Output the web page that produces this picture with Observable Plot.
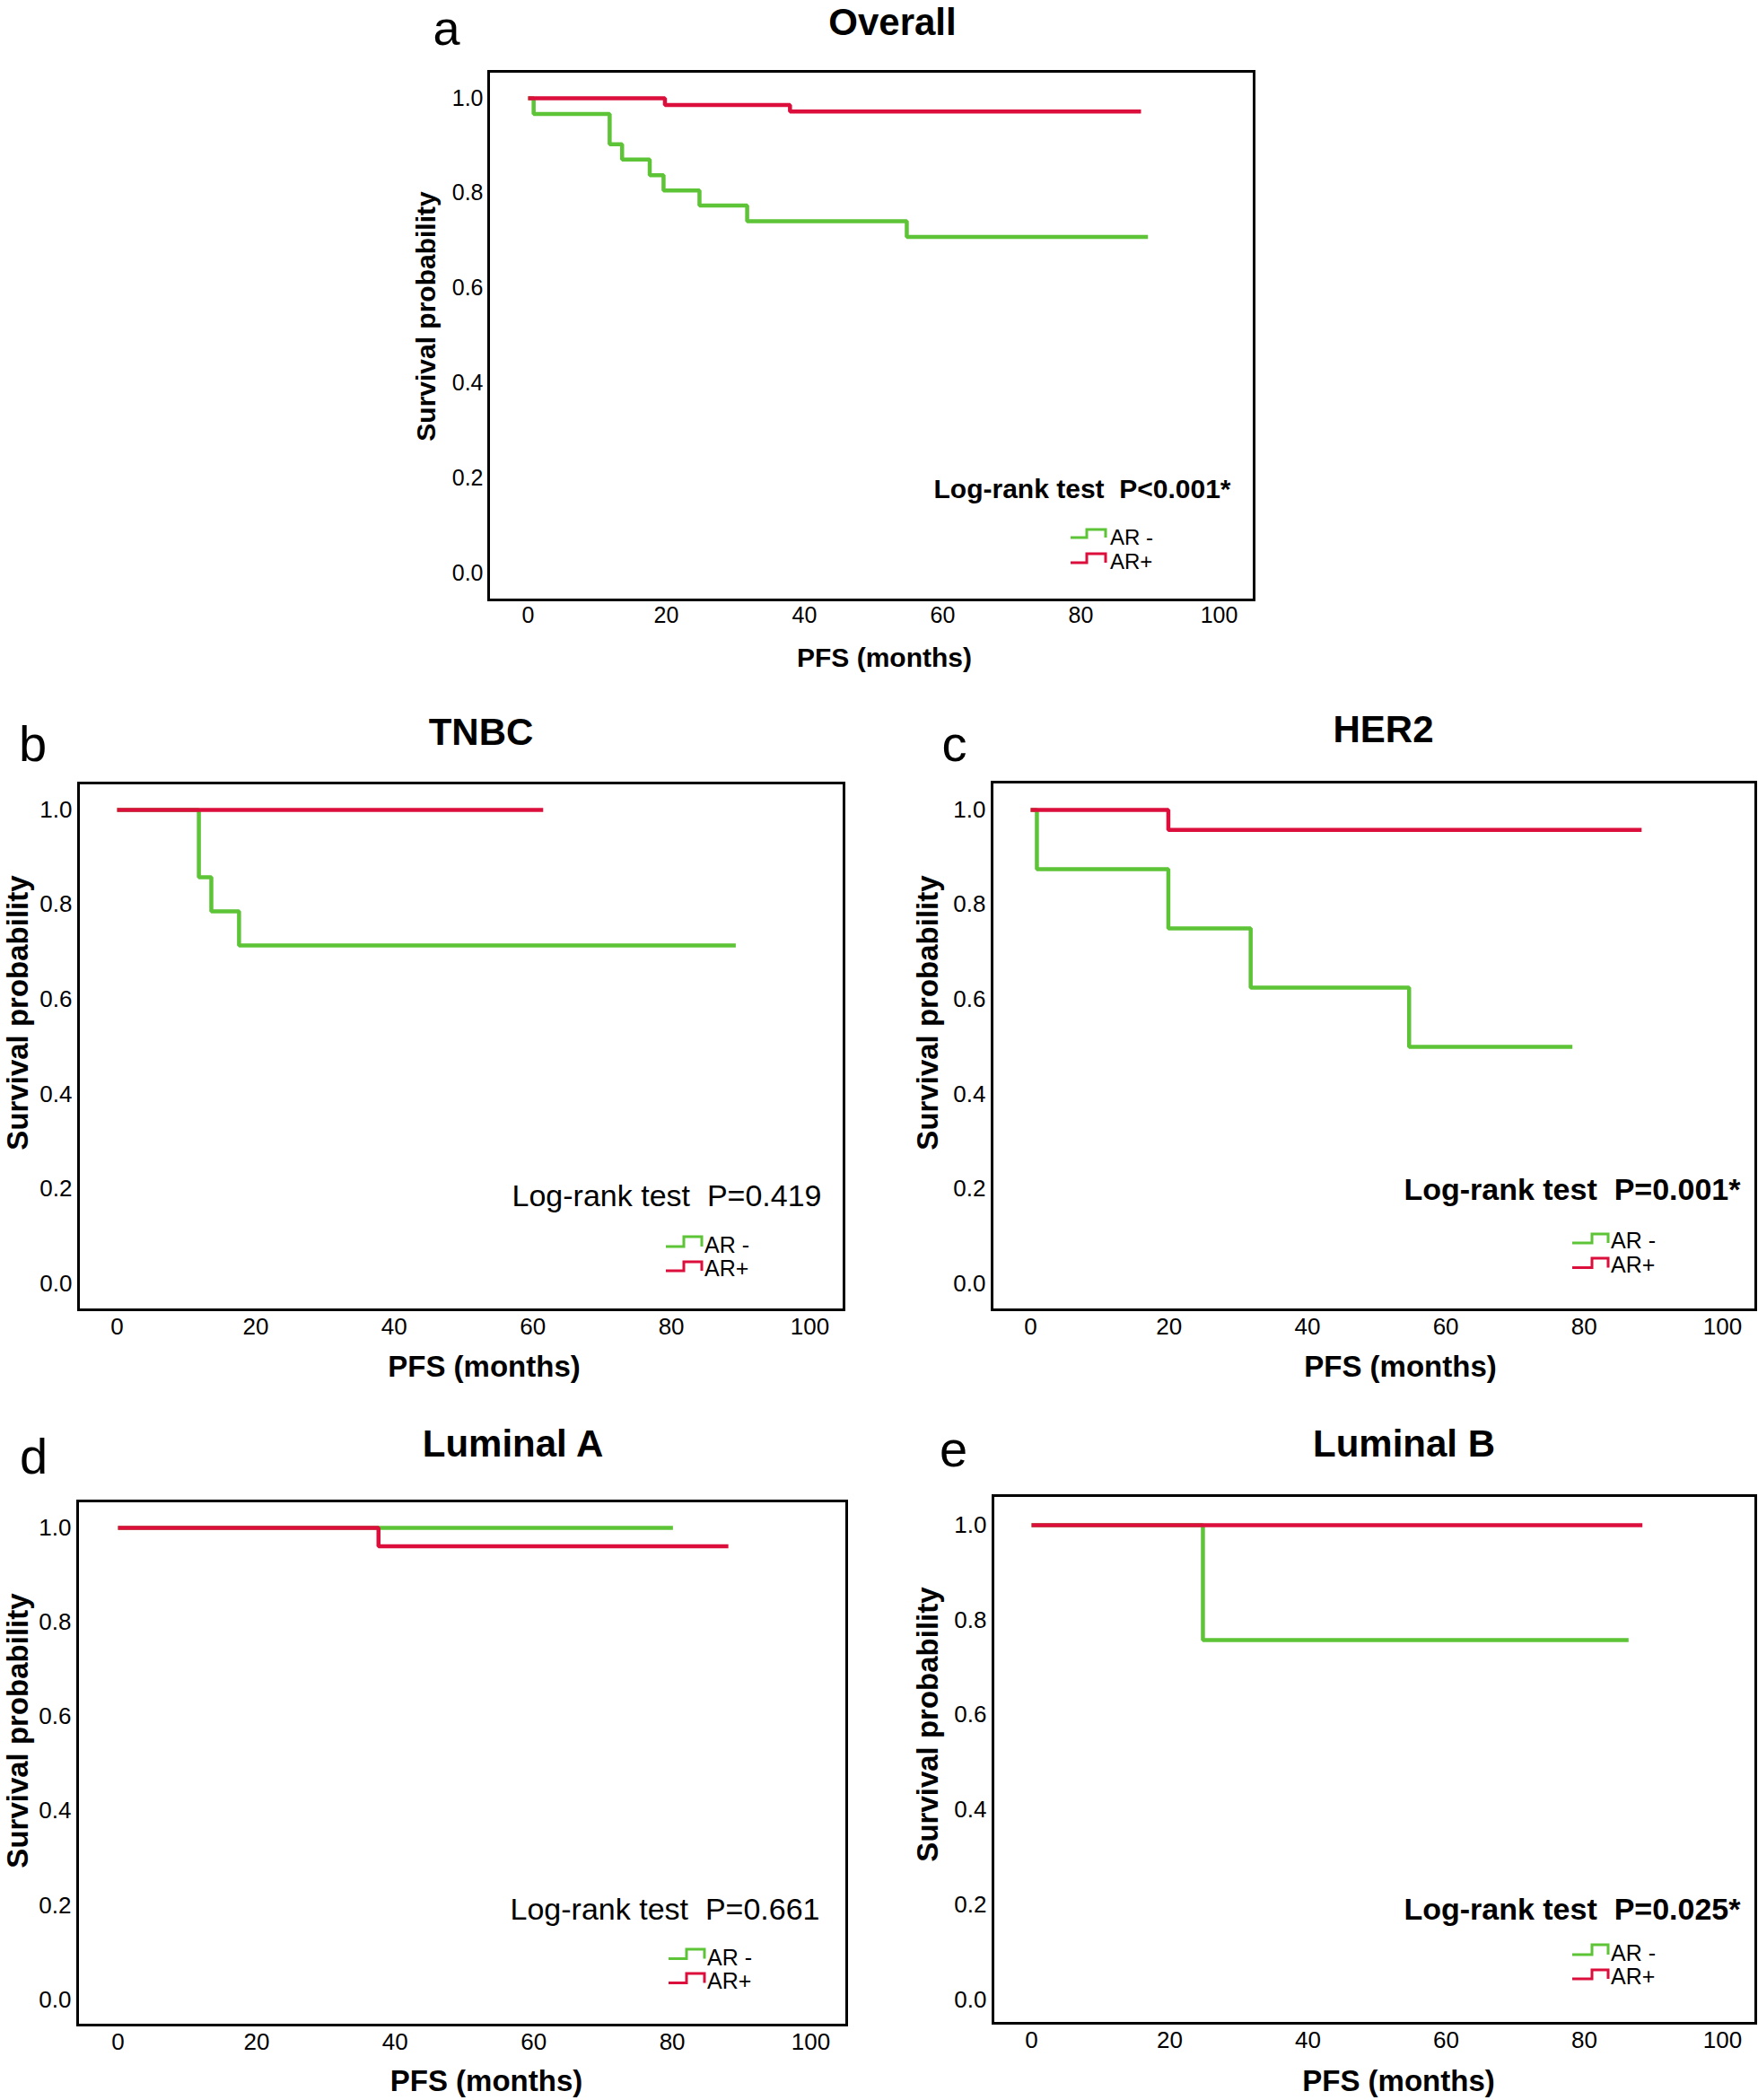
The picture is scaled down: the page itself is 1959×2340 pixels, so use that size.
<!DOCTYPE html>
<html><head><meta charset="utf-8">
<script src="https://cdn.jsdelivr.net/npm/d3@7"></script>
<script src="https://cdn.jsdelivr.net/npm/@observablehq/plot@0.6"></script>
<style>
html,body{margin:0;padding:0;background:#fff;}
#page{position:relative;width:1959px;height:2340px;overflow:hidden;background:#fff;}
#page svg{position:absolute;overflow:visible;}
</style></head><body><div id="page"></div>
<script>
// ---------- data ----------
const groups = ["AR -", "AR+"];
const panelLetters = ["a", "b", "c", "d", "e"];
const panelTitles = ["Overall", "TNBC", "HER2", "Luminal A", "Luminal B"];
const logRankLabel = "Log-rank test";
const pValues = ["P<0.001*", "P=0.419", "P=0.001*", "P=0.661", "P=0.025*"];
const pSignificant = [true, false, true, false, true];
const xTicks = [0, 20, 40, 60, 80, 100];
const yTicks = [0, 0.2, 0.4, 0.6, 0.8, 1.0];
const xLabel = "PFS (months)";
const yLabel = "Survival probability";

// Kaplan-Meier step points: [months, survival probability]
const overallNeg = [[0,1],[0.8,0.967],[11.8,0.903],[13.6,0.871],[17.6,0.838],[19.6,0.806],[24.8,0.774],[31.7,0.741],[54.8,0.708],[89.7,0.708]];
const overallPos = [[0,1],[19.8,0.986],[37.9,0.972],[88.7,0.972]];
const tnbcNeg = [[0,1],[11.8,0.858],[13.6,0.786],[17.6,0.714],[89.3,0.714]];
const tnbcPos = [[0,1],[61.5,1]];
const her2Neg = [[0,1],[0.9,0.875],[19.9,0.75],[31.8,0.625],[54.7,0.5],[78.3,0.5]];
const her2Pos = [[0,1],[19.9,0.958],[88.3,0.958]];
const lumANeg = [[0,1],[80.1,1]];
const lumAPos = [[0,1],[37.6,0.961],[88.1,0.961]];
const lumBNeg = [[0,1],[24.8,0.758],[86.4,0.758]];
const lumBPos = [[0,1],[88.4,1]];

const curves = [
  [overallNeg, overallPos],
  [tnbcNeg, tnbcPos],
  [her2Neg, her2Pos],
  [lumANeg, lumAPos],
  [lumBNeg, lumBPos]
];

// ---------- styles / layout ----------
const colors = ["#5ec437", "#dc0f3c"];
const fontFamily = "'Liberation Sans', Arial, Helvetica, sans-serif";

const fontsSmall = {tick: 25, ylab: 30, xlab: 30, logrank: 30, legend: 24};
const fontsBig = {tick: 26, ylab: 33, xlab: 33, logrank: 34, legend: 25};

const layout = [
  {left:544, right:1397, top:79, bottom:668, x0:588, x100:1358, y1:109, y0:638,
   ml:100, mr:20, mt:79, mb:92, xpad:8, ypad:6, fonts: fontsSmall, letterSize: 54,
   letter:[-47,-30], title:[23.5,-54], ylab:[-69,-21.5], xlab:[14.5,65], logrank:[-26,-123],
   legend:{sx0:-204, step:-186, sx1:-165, tx:-160, rows:[{low:-69,high:-78,ty:-70},{low:-41,high:-51,ty:-43}]}},
  {left:87, right:940, top:872, bottom:1459, x0:130, x100:902, y1:902, y0:1430,
   ml:87, mr:15, mt:92, mb:90, xpad:9, ypad:7, fonts: fontsBig, letterSize: 56,
   letter:[-51,-25], title:[22,-56], ylab:[-67,-37.5], xlab:[25.5,64], logrank:[-25,-126],
   legend:{sx0:-198, step:-178, sx1:-158, tx:-155, rows:[{low:-70,high:-81,ty:-72},{low:-43,high:-53,ty:-46.5}]}},
  {left:1105, right:1956, top:871, bottom:1459, x0:1148, x100:1919, y1:902, y0:1430,
   ml:95, mr:3, mt:91, mb:90, xpad:9, ypad:7, fonts: fontsBig, letterSize: 56,
   letter:[-42,-24], title:[10.5,-57.5], ylab:[-71,-37], xlab:[29.5,64], logrank:[-17,-133.5],
   legend:{sx0:-204, step:-182, sx1:-164, tx:-161, rows:[{low:-74,high:-84,ty:-77},{low:-46.5,high:-57,ty:-50}]}},
  {left:86, right:943, top:1672, bottom:2256, x0:131, x100:903, y1:1702, y0:2228,
   ml:86, mr:15, mt:92, mb:84, xpad:9, ypad:7, fonts: fontsBig, letterSize: 56,
   letter:[-49,-31], title:[56.5,-63], ylab:[-66,-36], xlab:[27,63], logrank:[-30,-128.5],
   legend:{sx0:-198, step:-178, sx1:-158, tx:-155, rows:[{low:-73.5,high:-84,ty:-75.5},{low:-46.5,high:-57,ty:-49}]}},
  {left:1106, right:1956, top:1666, bottom:2254, x0:1149, x100:1919, y1:1699, y0:2228,
   ml:96, mr:3, mt:86, mb:86, xpad:9, ypad:7, fonts: fontsBig, letterSize: 56,
   letter:[-44,-33], title:[33,-57], ylab:[-72,-39], xlab:[27,65], logrank:[-17,-126.5],
   legend:{sx0:-204, step:-182, sx1:-164, tx:-161, rows:[{low:-76,high:-87,ty:-78},{low:-49,high:-59,ty:-52}]}}
];

function legendMark(L) {
  return (index, scales, values, dim) => {
    const g = d3.create("svg:g");
    const rx = dim.width - dim.marginRight;
    const by = dim.height - dim.marginBottom;
    const lg = L.legend;
    groups.forEach((name, k) => {
      const r = lg.rows[k];
      const x0 = rx + lg.sx0, xs = rx + lg.step, x1 = rx + lg.sx1;
      const lo = by + r.low, hi = by + r.high;
      g.append("path")
        .attr("d", `M${x0},${lo}H${xs}V${hi}H${x1}V${lo}`)
        .attr("fill", "none")
        .attr("stroke", colors[k])
        .attr("stroke-width", 3);
      g.append("text")
        .attr("x", rx + lg.tx)
        .attr("y", by + r.ty)
        .attr("dy", "0.36em")
        .attr("text-anchor", "start")
        .attr("font-size", L.fonts.legend)
        .attr("font-family", fontFamily)
        .attr("fill", "#000")
        .text(name);
    });
    return g.node();
  };
}

function makePanel(i) {
  const L = layout[i];
  const F = L.fonts;
  const pxX = (L.x100 - L.x0) / 100;
  const pxY = (L.y0 - L.y1);
  const xDomain = [(L.left - L.x0) / pxX, (L.right - L.x0) / pxX];
  const yDomain = [(L.y0 - L.bottom) / pxY, (L.y0 - L.top) / pxY];
  const rows = [];
  groups.forEach((g, k) => curves[i][k].forEach(([t, s]) => rows.push({group: g, t, s})));
  const fw = L.right - L.left, fh = L.bottom - L.top;

  const plot = Plot.plot({
    width: L.ml + fw + L.mr,
    height: L.mt + fh + L.mb,
    marginLeft: L.ml, marginRight: L.mr, marginTop: L.mt, marginBottom: L.mb,
    style: {fontFamily, fontSize: F.tick + "px", color: "#000", background: "transparent", overflow: "visible"},
    x: {domain: xDomain, ticks: xTicks, tickSize: 0, tickPadding: L.xpad, label: null},
    y: {domain: yDomain, ticks: yTicks, tickFormat: ".1f", tickSize: 0, tickPadding: L.ypad, label: null},
    color: {domain: groups, range: colors},
    marks: [
      Plot.line(rows, {x: "t", y: "s", z: "group", stroke: "group", curve: "step-after",
        strokeWidth: 4.5, strokeLinejoin: "miter", strokeLinecap: "butt"}),
      Plot.frame({stroke: "#000", strokeWidth: 3}),
      Plot.text([panelLetters[i]], {text: d => d, frameAnchor: "top-left", dx: L.letter[0], dy: L.letter[1],
        textAnchor: "middle", lineAnchor: "bottom", fontSize: L.letterSize, fill: "#000"}),
      Plot.text([panelTitles[i]], {text: d => d, frameAnchor: "top", dx: L.title[0], dy: L.title[1],
        textAnchor: "middle", lineAnchor: "middle", fontSize: 42, fontWeight: "bold", fill: "#000"}),
      Plot.text([yLabel], {text: d => d, frameAnchor: "left", dx: L.ylab[0], dy: L.ylab[1], rotate: -90,
        textAnchor: "middle", lineAnchor: "middle", fontSize: F.ylab, fontWeight: "bold", fill: "#000"}),
      Plot.text([xLabel], {text: d => d, frameAnchor: "bottom", dx: L.xlab[0], dy: L.xlab[1],
        textAnchor: "middle", lineAnchor: "middle", fontSize: F.xlab, fontWeight: "bold", fill: "#000"}),
      Plot.text([`${logRankLabel}\u00a0\u00a0${pValues[i]}`], {text: d => d, frameAnchor: "bottom-right",
        dx: L.logrank[0], dy: L.logrank[1], textAnchor: "end", lineAnchor: "middle",
        fontSize: F.logrank, fontWeight: pSignificant[i] ? "bold" : "normal", fill: "#000"}),
      legendMark(L)
    ]
  });
  plot.style.left = (L.left - L.ml) + "px";
  plot.style.top = (L.top - L.mt) + "px";
  document.getElementById("page").appendChild(plot);
}

for (let i = 0; i < panelTitles.length; i++) makePanel(i);
</script>
</body></html>
